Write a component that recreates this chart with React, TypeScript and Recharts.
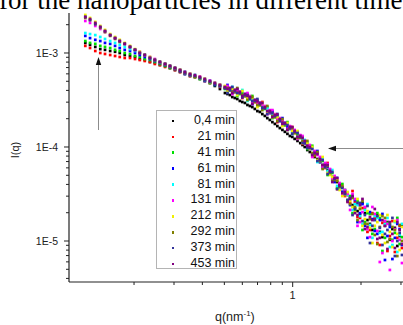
import React from 'react';
import { ScatterChart, Scatter, XAxis, YAxis, Legend } from 'recharts';

// scattering vector q (nm^-1), main grid
const qValues = [
  0.122, 0.128, 0.135, 0.142, 0.149, 0.157, 0.165, 0.173, 0.182, 0.192,
  0.202, 0.212, 0.223, 0.235, 0.247, 0.260, 0.274, 0.288, 0.303, 0.319,
  0.335, 0.353, 0.371, 0.390, 0.410, 0.432, 0.454, 0.478, 0.503, 0.529,
  0.556, 0.585, 0.616, 0.648, 0.681, 0.717, 0.754, 0.793, 0.835, 0.878,
  0.924, 0.972, 1.02, 1.08, 1.13, 1.19, 1.25, 1.32, 1.39, 1.46,
  1.53, 1.61, 1.70, 1.79, 1.88, 1.98, 2.08, 2.19, 2.30, 2.42,
  2.55, 2.68, 2.82, 2.96,
];
// in-between q points where the curves are dense
const qFine = [
  0.516, 0.542, 0.570, 0.600, 0.632, 0.664, 0.699, 0.735, 0.773, 0.814,
  0.856, 0.901, 0.948, 0.996, 1.05, 1.105, 1.16, 1.22, 1.285, 1.355,
  1.425, 1.495, 1.57, 1.655, 1.745, 1.835, 1.93, 2.03, 2.135, 2.245,
  2.36, 2.485, 2.615, 2.75, 2.89, 3.03,
];

// I(q) on the main grid
const t0_4 = [
  1.28e-3, 1.22e-3, 1.16e-3, 1.10e-3, 1.08e-3, 1.05e-3, 1.03e-3, 1.00e-3, 9.52e-4, 9.29e-4,
  9.07e-4, 8.63e-4, 8.42e-4, 8.02e-4, 7.83e-4, 7.45e-4, 7.27e-4, 6.92e-4, 6.59e-4, 6.28e-4,
  5.98e-4, 5.69e-4, 5.56e-4, 5.29e-4, 5.04e-4, 4.80e-4, 4.46e-4, 4.14e-4, 3.75e-4, 3.57e-4,
  3.32e-4, 3.09e-4, 2.94e-4, 2.73e-4, 2.54e-4, 2.36e-4, 2.14e-4, 1.94e-4, 1.76e-4, 1.59e-4,
  1.45e-4, 1.31e-4, 1.22e-4, 1.10e-4, 1.00e-4, 8.85e-5, 7.83e-5, 6.92e-5, 6.13e-5, 5.29e-5,
  4.46e-5, 3.94e-5, 3.16e-5, 2.87e-5, 2.24e-5, 1.94e-5, 1.98e-5, 1.52e-5, 1.71e-5, 1.25e-5,
  1.45e-5, 1.03e-5, 1.38e-5, 1.13e-5,
];
const t21 = [
  1.19e-3, 1.13e-3, 1.05e-3, 1.00e-3, 9.76e-4, 9.52e-4, 9.29e-4, 9.07e-4, 8.85e-4, 8.85e-4,
  8.63e-4, 8.42e-4, 8.22e-4, 8.02e-4, 7.64e-4, 7.45e-4, 7.10e-4, 6.92e-4, 6.59e-4, 6.28e-4,
  6.13e-4, 5.69e-4, 5.56e-4, 5.56e-4, 5.04e-4, 4.80e-4, 4.68e-4, 4.35e-4, 4.35e-4, 4.04e-4,
  3.85e-4, 3.85e-4, 3.49e-4, 3.40e-4, 3.01e-4, 2.80e-4, 2.66e-4, 2.30e-4, 2.19e-4, 1.89e-4,
  1.71e-4, 1.63e-4, 1.41e-4, 1.31e-4, 1.10e-4, 1.00e-4, 8.02e-5, 7.64e-5, 5.98e-5, 5.69e-5,
  4.35e-5, 4.04e-5, 3.01e-5, 2.54e-5, 2.60e-5, 1.76e-5, 2.24e-5, 1.31e-5, 1.76e-5, 9.07e-6,
  1.59e-5, 1.13e-5, 7.64e-6, 1.45e-5,
];
const t41 = [
  1.34e-3, 1.28e-3, 1.25e-3, 1.19e-3, 1.16e-3, 1.13e-3, 1.08e-3, 1.05e-3, 1.00e-3, 9.76e-4,
  9.29e-4, 9.07e-4, 8.63e-4, 8.42e-4, 8.02e-4, 7.64e-4, 7.27e-4, 6.92e-4, 6.76e-4, 6.43e-4,
  6.28e-4, 5.98e-4, 5.56e-4, 5.29e-4, 5.29e-4, 4.80e-4, 4.57e-4, 4.57e-4, 4.14e-4, 4.04e-4,
  4.04e-4, 3.66e-4, 3.49e-4, 3.24e-4, 3.16e-4, 2.80e-4, 2.54e-4, 2.41e-4, 2.08e-4, 1.98e-4,
  1.71e-4, 1.56e-4, 1.48e-4, 1.25e-4, 1.16e-4, 1.03e-4, 8.22e-5, 7.45e-5, 6.59e-5, 5.16e-5,
  4.80e-5, 3.66e-5, 3.49e-5, 3.01e-5, 2.14e-5, 2.41e-5, 1.59e-5, 1.94e-5, 1.34e-5, 1.76e-5,
  1.08e-5, 1.52e-5, 1.22e-5, 9.29e-6,
];
const t61 = [
  1.52e-3, 1.44e-3, 1.38e-3, 1.34e-3, 1.28e-3, 1.25e-3, 1.19e-3, 1.13e-3, 1.08e-3, 1.05e-3,
  1.00e-3, 9.52e-4, 9.07e-4, 8.63e-4, 8.22e-4, 7.83e-4, 7.45e-4, 7.10e-4, 6.76e-4, 6.43e-4,
  5.98e-4, 5.83e-4, 5.69e-4, 5.42e-4, 5.04e-4, 5.04e-4, 4.57e-4, 4.46e-4, 4.24e-4, 4.04e-4,
  3.85e-4, 3.75e-4, 3.57e-4, 3.24e-4, 3.09e-4, 2.94e-4, 2.60e-4, 2.30e-4, 2.14e-4, 1.89e-4,
  1.80e-4, 1.56e-4, 1.45e-4, 1.31e-4, 1.10e-4, 9.52e-5, 8.85e-5, 6.92e-5, 6.43e-5, 5.56e-5,
  4.24e-5, 3.75e-5, 3.40e-5, 2.41e-5, 2.73e-5, 1.98e-5, 1.45e-5, 2.03e-5, 1.28e-5, 1.67e-5,
  6.28e-6, 1.41e-5, 1.08e-5, 1.34e-5,
];
const t81 = [
  1.63e-3, 1.59e-3, 1.55e-3, 1.48e-3, 1.41e-3, 1.34e-3, 1.28e-3, 1.22e-3, 1.16e-3, 1.10e-3,
  1.05e-3, 1.00e-3, 9.52e-4, 8.85e-4, 8.42e-4, 8.02e-4, 7.64e-4, 7.27e-4, 6.92e-4, 6.59e-4,
  6.28e-4, 5.83e-4, 5.83e-4, 5.42e-4, 5.16e-4, 4.92e-4, 4.80e-4, 4.46e-4, 4.35e-4, 4.14e-4,
  3.94e-4, 3.85e-4, 3.66e-4, 3.40e-4, 3.16e-4, 2.87e-4, 2.66e-4, 2.41e-4, 2.19e-4, 1.98e-4,
  1.80e-4, 1.63e-4, 1.48e-4, 1.31e-4, 1.19e-4, 9.76e-5, 8.63e-5, 7.64e-5, 6.13e-5, 5.69e-5,
  4.68e-5, 3.57e-5, 3.32e-5, 2.80e-5, 2.47e-5, 1.84e-5, 2.14e-5, 1.48e-5, 1.84e-5, 1.22e-5,
  1.52e-5, 8.63e-6, 1.59e-5, 1.16e-5,
];
const t131 = [
  2.19e-3, 2.09e-3, 1.94e-3, 1.80e-3, 1.67e-3, 1.55e-3, 1.44e-3, 1.34e-3, 1.25e-3, 1.16e-3,
  1.08e-3, 1.03e-3, 9.52e-4, 9.07e-4, 8.63e-4, 8.02e-4, 7.64e-4, 7.27e-4, 6.92e-4, 6.59e-4,
  6.28e-4, 5.98e-4, 5.69e-4, 5.56e-4, 5.29e-4, 5.04e-4, 4.80e-4, 4.57e-4, 4.35e-4, 4.24e-4,
  4.04e-4, 3.85e-4, 3.66e-4, 3.49e-4, 3.16e-4, 2.94e-4, 2.73e-4, 2.47e-4, 2.24e-4, 2.03e-4,
  1.80e-4, 1.67e-4, 1.52e-4, 1.34e-4, 1.16e-4, 1.05e-4, 9.07e-5, 7.83e-5, 6.76e-5, 5.83e-5,
  4.92e-5, 4.14e-5, 3.49e-5, 2.14e-5, 2.80e-5, 1.59e-5, 2.30e-5, 1.10e-5, 1.94e-5, 5.98e-6,
  1.63e-5, 4.92e-6, 1.34e-5, 1.03e-5,
];
const t212 = [
  2.54e-3, 2.36e-3, 2.14e-3, 1.94e-3, 1.76e-3, 1.59e-3, 1.48e-3, 1.38e-3, 1.28e-3, 1.19e-3,
  1.10e-3, 1.03e-3, 9.52e-4, 9.07e-4, 8.42e-4, 8.02e-4, 7.64e-4, 7.27e-4, 6.92e-4, 6.59e-4,
  6.13e-4, 5.98e-4, 5.69e-4, 5.42e-4, 5.29e-4, 4.92e-4, 4.80e-4, 4.57e-4, 4.46e-4, 4.14e-4,
  4.04e-4, 3.75e-4, 3.57e-4, 3.40e-4, 3.09e-4, 2.87e-4, 2.66e-4, 2.36e-4, 2.19e-4, 1.98e-4,
  1.76e-4, 1.59e-4, 1.41e-4, 1.28e-4, 1.13e-4, 9.52e-5, 8.42e-5, 7.10e-5, 6.28e-5, 5.04e-5,
  4.68e-5, 3.49e-5, 3.09e-5, 2.66e-5, 2.03e-5, 2.24e-5, 1.71e-5, 1.38e-5, 1.45e-5, 1.89e-5,
  9.52e-6, 1.25e-5, 1.63e-5, 8.02e-6,
];
const t292 = [
  2.36e-3, 2.24e-3, 2.03e-3, 1.85e-3, 1.67e-3, 1.52e-3, 1.41e-3, 1.31e-3, 1.25e-3, 1.16e-3,
  1.08e-3, 1.00e-3, 9.52e-4, 8.85e-4, 8.42e-4, 8.02e-4, 7.64e-4, 7.27e-4, 6.92e-4, 6.59e-4,
  6.13e-4, 5.83e-4, 5.56e-4, 5.42e-4, 5.16e-4, 4.92e-4, 4.68e-4, 4.46e-4, 4.24e-4, 4.14e-4,
  3.85e-4, 3.75e-4, 3.49e-4, 3.32e-4, 3.01e-4, 2.80e-4, 2.60e-4, 2.36e-4, 2.08e-4, 1.94e-4,
  1.76e-4, 1.59e-4, 1.41e-4, 1.25e-4, 1.13e-4, 9.76e-5, 8.22e-5, 7.10e-5, 6.13e-5, 5.29e-5,
  4.46e-5, 3.75e-5, 3.16e-5, 2.47e-5, 2.30e-5, 2.19e-5, 1.52e-5, 1.71e-5, 1.16e-5, 1.41e-5,
  1.76e-5, 1.05e-5, 1.31e-5, 1.48e-5,
];
const t373 = [
  2.42e-3, 2.24e-3, 2.03e-3, 1.89e-3, 1.71e-3, 1.55e-3, 1.44e-3, 1.34e-3, 1.25e-3, 1.16e-3,
  1.08e-3, 1.00e-3, 9.52e-4, 8.85e-4, 8.42e-4, 8.02e-4, 7.64e-4, 7.27e-4, 6.92e-4, 6.43e-4,
  6.13e-4, 5.83e-4, 5.69e-4, 5.42e-4, 5.16e-4, 4.92e-4, 4.68e-4, 4.46e-4, 4.24e-4, 4.04e-4,
  3.94e-4, 3.75e-4, 3.57e-4, 3.32e-4, 3.09e-4, 2.87e-4, 2.60e-4, 2.36e-4, 2.14e-4, 1.94e-4,
  1.76e-4, 1.59e-4, 1.45e-4, 1.28e-4, 1.10e-4, 9.76e-5, 8.63e-5, 7.27e-5, 6.13e-5, 5.42e-5,
  4.57e-5, 3.85e-5, 3.16e-5, 2.87e-5, 2.19e-5, 2.54e-5, 1.89e-5, 9.52e-6, 1.67e-5, 1.38e-5,
  1.19e-5, 1.48e-5, 6.92e-6, 1.22e-5,
];
const t453 = [
  2.42e-3, 2.30e-3, 2.09e-3, 1.89e-3, 1.71e-3, 1.55e-3, 1.44e-3, 1.34e-3, 1.25e-3, 1.16e-3,
  1.08e-3, 1.00e-3, 9.52e-4, 8.85e-4, 8.42e-4, 8.02e-4, 7.64e-4, 7.27e-4, 6.92e-4, 6.59e-4,
  6.28e-4, 5.98e-4, 5.83e-4, 5.56e-4, 5.29e-4, 5.04e-4, 4.80e-4, 4.57e-4, 4.35e-4, 4.24e-4,
  4.04e-4, 3.85e-4, 3.66e-4, 3.40e-4, 3.16e-4, 2.94e-4, 2.66e-4, 2.41e-4, 2.19e-4, 1.98e-4,
  1.80e-4, 1.63e-4, 1.48e-4, 1.31e-4, 1.16e-4, 1.00e-4, 8.63e-5, 7.45e-5, 6.43e-5, 5.56e-5,
  4.68e-5, 3.94e-5, 3.32e-5, 2.80e-5, 1.98e-5, 2.41e-5, 1.34e-5, 1.80e-5, 2.19e-5, 1.08e-5,
  1.45e-5, 1.59e-5, 8.42e-6, 1.31e-5,
];

// I(q) on the in-between points
const f0_4 = [
  3.66e-4, 3.40e-4, 3.24e-4, 3.01e-4, 2.80e-4, 2.66e-4, 2.41e-4, 2.24e-4, 2.03e-4, 1.84e-4,
  1.67e-4, 1.52e-4, 1.38e-4, 1.28e-4, 1.16e-4, 1.05e-4, 9.29e-5, 8.42e-5, 7.45e-5, 6.43e-5,
  5.69e-5, 4.80e-5, 4.24e-5, 3.32e-5, 3.09e-5, 2.41e-5, 2.08e-5, 2.54e-5, 1.67e-5, 1.31e-5,
  1.89e-5, 1.10e-5, 1.59e-5, 1.34e-5, 8.85e-6, 1.45e-5,
];
const f21 = [
  4.35e-4, 3.75e-4, 3.94e-4, 3.32e-4, 3.66e-4, 3.01e-4, 2.94e-4, 3.01e-4, 2.30e-4, 2.36e-4,
  1.84e-4, 1.89e-4, 1.59e-4, 1.63e-4, 1.31e-4, 1.08e-4, 1.10e-4, 8.02e-5, 8.63e-5, 6.28e-5,
  6.76e-5, 4.68e-5, 3.57e-5, 3.75e-5, 2.66e-5, 3.40e-5, 1.80e-5, 2.24e-5, 1.25e-5, 1.98e-5,
  9.52e-6, 1.56e-5, 7.83e-6, 1.63e-5, 1.08e-5, 8.42e-6,
];
const f41 = [
  3.85e-4, 4.24e-4, 3.49e-4, 3.75e-4, 3.24e-4, 3.49e-4, 2.73e-4, 2.66e-4, 2.66e-4, 2.03e-4,
  2.14e-4, 1.76e-4, 1.84e-4, 1.41e-4, 1.38e-4, 1.28e-4, 9.52e-5, 1.03e-4, 7.10e-5, 7.10e-5,
  5.04e-5, 5.29e-5, 3.66e-5, 4.04e-5, 2.73e-5, 1.98e-5, 2.66e-5, 1.31e-5, 1.98e-5, 1.19e-5,
  1.98e-5, 7.83e-6, 1.56e-5, 1.03e-5, 1.76e-5, 1.10e-5,
];
const f61 = [
  4.57e-4, 3.94e-4, 4.14e-4, 3.40e-4, 3.49e-4, 2.87e-4, 3.09e-4, 2.60e-4, 2.41e-4, 2.41e-4,
  1.89e-4, 2.03e-4, 1.63e-4, 1.45e-4, 1.45e-4, 1.13e-4, 1.03e-4, 8.42e-5, 9.07e-5, 5.98e-5,
  6.13e-5, 4.46e-5, 4.68e-5, 3.32e-5, 3.24e-5, 2.94e-5, 1.59e-5, 2.47e-5, 1.08e-5, 1.71e-5,
  1.19e-5, 1.94e-5, 1.13e-5, 6.43e-6, 1.52e-5, 9.07e-6,
];
const f81 = [
  4.04e-4, 4.35e-4, 3.66e-4, 4.04e-4, 3.09e-4, 3.24e-4, 3.16e-4, 2.54e-4, 2.60e-4, 2.19e-4,
  2.24e-4, 1.71e-4, 1.76e-4, 1.38e-4, 1.28e-4, 1.22e-4, 1.13e-4, 9.76e-5, 6.92e-5, 7.45e-5,
  5.56e-5, 5.69e-5, 3.85e-5, 3.16e-5, 3.09e-5, 2.14e-5, 2.41e-5, 1.52e-5, 2.47e-5, 1.08e-5,
  1.76e-5, 1.25e-5, 1.76e-5, 9.07e-6, 7.64e-6, 1.52e-5,
];
const f131 = [
  4.46e-4, 3.66e-4, 4.04e-4, 3.49e-4, 3.75e-4, 2.94e-4, 2.87e-4, 2.80e-4, 2.24e-4, 2.47e-4,
  1.98e-4, 1.94e-4, 1.56e-4, 1.56e-4, 1.22e-4, 1.31e-4, 1.00e-4, 7.83e-5, 8.22e-5, 6.13e-5,
  6.59e-5, 4.57e-5, 4.57e-5, 3.09e-5, 3.16e-5, 3.16e-5, 1.45e-5, 2.03e-5, 1.34e-5, 2.30e-5,
  1.28e-5, 7.45e-6, 1.52e-5, 1.00e-5, 1.67e-5, 5.83e-6,
];
const f212 = [
  3.94e-4, 4.14e-4, 3.57e-4, 3.94e-4, 3.32e-4, 3.32e-4, 2.66e-4, 2.94e-4, 2.36e-4, 2.08e-4,
  2.08e-4, 1.67e-4, 1.80e-4, 1.48e-4, 1.48e-4, 1.10e-4, 1.10e-4, 1.00e-4, 7.27e-5, 7.83e-5,
  5.29e-5, 4.80e-5, 4.46e-5, 3.01e-5, 3.32e-5, 2.30e-5, 2.80e-5, 1.45e-5, 2.08e-5, 9.52e-6,
  1.59e-5, 1.16e-5, 1.89e-5, 8.63e-6, 1.19e-5, 1.41e-5,
];
const f292 = [
  4.24e-4, 3.85e-4, 4.24e-4, 3.57e-4, 3.16e-4, 3.40e-4, 2.80e-4, 2.47e-4, 2.73e-4, 2.14e-4,
  1.89e-4, 1.98e-4, 1.52e-4, 1.59e-4, 1.25e-4, 1.16e-4, 1.16e-4, 8.63e-5, 8.85e-5, 5.83e-5,
  6.28e-5, 4.35e-5, 4.35e-5, 3.85e-5, 2.66e-5, 2.87e-5, 1.67e-5, 2.66e-5, 1.52e-5, 1.94e-5,
  9.29e-6, 1.84e-5, 9.76e-6, 1.41e-5, 6.92e-6, 1.00e-5,
];
const f373 = [
  3.75e-4, 4.35e-4, 3.75e-4, 3.40e-4, 3.57e-4, 3.09e-4, 3.24e-4, 2.60e-4, 2.24e-4, 2.30e-4,
  2.19e-4, 1.80e-4, 1.71e-4, 1.38e-4, 1.41e-4, 1.10e-4, 9.76e-5, 9.52e-5, 7.10e-5, 7.27e-5,
  5.16e-5, 5.42e-5, 3.57e-5, 3.66e-5, 2.73e-5, 1.89e-5, 2.54e-5, 1.63e-5, 2.36e-5, 1.45e-5,
  1.84e-5, 9.07e-6, 1.31e-5, 1.76e-5, 1.00e-5, 7.10e-6,
];
const f453 = [
  4.14e-4, 3.75e-4, 4.14e-4, 3.49e-4, 3.49e-4, 2.87e-4, 3.09e-4, 2.94e-4, 2.41e-4, 2.08e-4,
  2.24e-4, 1.76e-4, 1.52e-4, 1.63e-4, 1.28e-4, 1.25e-4, 1.03e-4, 8.22e-5, 8.42e-5, 6.43e-5,
  6.43e-5, 4.24e-5, 4.68e-5, 3.24e-5, 2.60e-5, 3.01e-5, 1.89e-5, 2.80e-5, 1.41e-5, 1.67e-5,
  1.05e-5, 1.67e-5, 8.22e-6, 1.19e-5, 1.59e-5, 9.29e-6,
];

const seriesNames = ['0,4 min', '21 min', '41 min', '61 min', '81 min', '131 min', '212 min', '292 min', '373 min', '453 min'];
const seriesValues = [t0_4, t21, t41, t61, t81, t131, t212, t292, t373, t453];
const seriesFine = [f0_4, f21, f41, f61, f81, f131, f212, f292, f373, f453];
const seriesColors = ['#000000', '#ff0000', '#00e000', '#0000ff', '#00ffff', '#ff00ff', '#f0f000', '#808000', '#33339a', '#800080'];

const xTicks = [0.2, 0.3, 0.4, 0.5, 0.6, 0.7, 0.8, 0.9, 1, 2, 3];
const xMajor = [1];
const xMajorLabels = ['1'];
const yTicks = [
  4e-6, 5e-6, 6e-6, 7e-6, 8e-6, 9e-6, 1e-5,
  2e-5, 3e-5, 4e-5, 5e-5, 6e-5, 7e-5, 8e-5, 9e-5, 1e-4,
  2e-4, 3e-4, 4e-4, 5e-4, 6e-4, 7e-4, 8e-4, 9e-4, 1e-3, 2e-3,
];
const yMajor = [1e-5, 1e-4, 1e-3];
const yMajorLabels = ['1E-5', '1E-4', '1E-3'];

const tickFont = '"Liberation Sans", Arial, sans-serif';

const XTick = (props: any) => {
  const { x, y, payload } = props;
  const k = xMajor.indexOf(payload.value);
  return (
    <g>
      <line x1={x} x2={x} y1={y} y2={y + (k >= 0 ? 5 : 3)} stroke="#222" />
      {k >= 0 && (
        <text x={x} y={y + 16.5} textAnchor="middle" fontSize={11} fontFamily={tickFont} fill="#222">
          {xMajorLabels[k]}
        </text>
      )}
    </g>
  );
};

const YTick = (props: any) => {
  const { x, y, payload } = props;
  const k = yMajor.findIndex((v) => Math.abs(v - payload.value) / v < 1e-6);
  return (
    <g>
      <line x1={x} x2={x - (k >= 0 ? 5 : 3)} y1={y} y2={y} stroke="#222" />
      {k >= 0 && (
        <text x={x - 11} y={y} dy="0.36em" textAnchor="end" fontSize={10.5} fontFamily={tickFont} fill="#222">
          {yMajorLabels[k]}
        </text>
      )}
    </g>
  );
};

const renderLegend = () => (
  <div
    style={{
      width: 81,
      height: 159,
      boxSizing: 'border-box',
      border: '1px solid #b4b4b4',
      background: '#fff',
      paddingTop: 2,
    }}
  >
    {seriesNames.map((name, i) => (
      <div key={name} style={{ position: 'relative', height: 15.9, lineHeight: '15.9px' }}>
        <span
          style={{
            position: 'absolute',
            left: 14.5,
            top: 6.7,
            width: 2.6,
            height: 2.6,
            background: seriesColors[i],
          }}
        />
        <span
          style={{
            position: 'absolute',
            right: 1,
            top: 0,
            fontSize: 12.5,
            fontFamily: tickFont,
            color: '#111',
          }}
        >
          {name}
        </span>
      </div>
    ))}
  </div>
);

export default function App() {
  return (
    <div style={{ position: 'absolute', left: 0, top: 0, width: 403, height: 325, overflow: 'hidden', background: '#fff' }}>
      <ScatterChart width={403} height={325} margin={{ top: 13, right: 0, bottom: 0, left: 0 }}>
        <XAxis
          xAxisId="top"
          orientation="top"
          type="number"
          dataKey="q"
          scale="log"
          domain={[0.1034, 3.062]}
          allowDataOverflow
          height={0}
          tick={false}
          tickLine={false}
          axisLine={{ stroke: '#a8a8a8' }}
        />
        <XAxis
          type="number"
          dataKey="q"
          scale="log"
          domain={[0.1034, 3.062]}
          allowDataOverflow
          ticks={xTicks}
          interval={0}
          tick={<XTick />}
          tickLine={false}
          tickSize={0}
          tickMargin={0}
          height={43}
          axisLine={{ stroke: '#222', strokeWidth: 1.2 }}
        />
        <YAxis
          type="number"
          dataKey="I"
          scale="log"
          domain={[3.664e-6, 2.663e-3]}
          allowDataOverflow
          ticks={yTicks}
          interval={0}
          tick={<YTick />}
          tickLine={false}
          tickSize={0}
          tickMargin={0}
          width={69}
          axisLine={{ stroke: '#222', strokeWidth: 1.2 }}
        />
        <Legend
          layout="vertical"
          align="center"
          verticalAlign="middle"
          content={renderLegend}
          wrapperStyle={{ left: 156, top: 110, width: 81, height: 159 }}
        />
        {seriesValues.map((vals, i) => (
          <Scatter
            key={seriesNames[i]}
            name={seriesNames[i]}
            data={[
              ...qValues.map((q, k) => ({ q, I: vals[k] })),
              ...qFine.map((q, k) => ({ q, I: seriesFine[i][k] })),
            ]}
            fill={seriesColors[i]}
            isAnimationActive={false}
            shape={(p: any) => (
              <rect x={p.cx - 1.35} y={p.cy - 1.35} width={2.7} height={2.7} fill={seriesColors[i]} />
            )}
          />
        ))}
      </ScatterChart>
      <svg
        width={403}
        height={325}
        style={{ position: 'absolute', left: 0, top: 0, pointerEvents: 'none' }}
      >
        <text x={-1} y={8.5} fontSize={27} fontFamily='"Liberation Serif", "Times New Roman", serif' fill="#000">
          for the nanoparticles in different time
        </text>
        <text
          transform="translate(18.5,150) rotate(-90)"
          textAnchor="middle"
          fontSize={11}
          fontFamily={tickFont}
          fill="#222"
        >
          I(q)
        </text>
        <text x={215} y={320.5} fontSize={12.5} fontFamily={tickFont} fill="#222">
          q(nm<tspan fontSize={8} dy={-5}>-1</tspan>
          <tspan dy={5}>)</tspan>
        </text>
        <line x1={98.5} y1={130} x2={98.5} y2={64} stroke="#8c8c8c" strokeWidth={1} />
        <polygon points="98.5,57 95.8,65 101.2,65" fill="#111" />
        <line x1={336} y1={148.5} x2={403} y2={148.5} stroke="#8c8c8c" strokeWidth={1} />
        <polygon points="328,148.5 336,145.8 336,151.2" fill="#111" />
      </svg>
    </div>
  );
}
